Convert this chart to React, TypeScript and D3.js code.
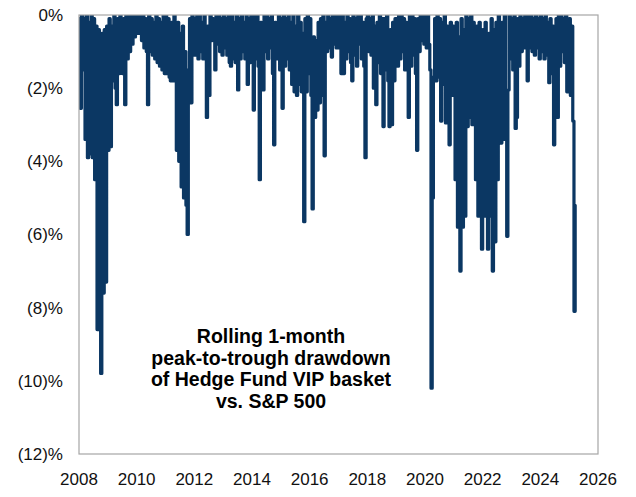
import React from "react";
import * as d3 from "d3";

// Rolling 1-month peak-to-trough drawdown (%), semi-monthly readings per year
const y2008 = [-0.1, -2.55, 0, -1.5, -0.1, -3.4, 0, -3.9, -0.2, -3.8, 0, -3.9, -0.1, -4.5, -0.3, -8.6, -0.4, -8.6, -9.8, -0.5, -7.6, -0.4, -7.3, -0.3];
const y2009 = [-3.7, -0.1, -3.6, -0.3, -1.8, 0, -2.0, -2.45, -0.1, -1.6, 0, -1.5, -1.6, -0.1, -2.45, 0, -1.2, 0, -1.0, 0, -0.8, 0, -0.6, 0];
const y2010 = [-0.5, 0, -0.5, 0, -0.7, 0, -0.9, -0.1, -1.0, -2.45, 0, -1.0, -0.1, -1.1, -0.2, -1.2, 0, -1.3, -0.1, -1.4, -0.2, -1.5, 0, -1.6];
const y2011 = [0, -1.6, -0.1, -1.7, -1.8, -0.2, -1.8, 0, -1.5, -3.7, -0.2, -4.0, -0.5, -4.7, -0.3, -5.0, -1.0, -5.2, -6.0, -1.5, -0.1, -2.4, 0, -1.1];
const y2012 = [-0.1, -1.1, 0, -1.2, 0, -1.0, -0.2, -1.2, 0, -1.1, -2.8, -0.3, -2.2, 0, -0.7, -0.1, -0.6, -1.5, 0, -0.8, 0, -1.0, -0.1, -1.1];
const y2013 = [0, -0.9, -0.1, -1.1, 0, -1.3, -1.4, 0, -1.2, -0.2, -1.3, 0, -2.05, -0.1, -1.2, 0, -1.0, -0.2, -1.2, 0, -1.9, -0.1, -1.3, 0];
const y2014 = [-0.2, -2.6, 0, -1.2, 0, -1.4, -4.5, -0.2, -1.3, -2.05, 0, -1.0, 0, -1.2, -0.1, -0.9, 0, -1.6, -3.55, -0.2, -0.4, -1.2, 0, -1.5];
const y2015 = [-0.1, -2.55, 0, -1.4, -0.1, -1.2, 0, -1.5, -0.2, -1.9, 0, -2.1, -0.3, -2.2, 0, -1.9, -0.2, -2.1, -0.5, -5.65, -0.1, -2.1, 0, -1.6];
const y2016 = [-0.1, -2.2, -5.3, -0.6, -2.8, -0.7, -2.6, -0.2, -2.4, -0.1, -2.2, 0, -3.85, -0.2, -1.0, 0, -0.9, -0.1, -1.15, 0, -0.8, 0, -0.9, -0.1];
const y2017 = [0, -0.9, -1.6, 0, -1.6, -0.2, -1.2, 0, -1.0, -0.1, -1.3, -1.8, 0, -1.1, -0.1, -1.4, 0, -0.8, 0, -1.2, -0.2, -1.4, -3.9, -0.1];
const y2018 = [0, -1.0, -0.1, -1.1, 0, -2.0, -0.3, -2.45, -0.2, -1.3, 0, -1.6, -0.1, -3.05, -0.1, -1.5, 0, -1.8, -3.05, -0.4, -3.0, -0.2, -1.8, -0.1];
const y2019 = [-0.1, -1.4, 0, -1.2, 0, -1.0, -0.1, -1.5, -0.2, -1.3, -2.8, 0, -1.4, 0, -1.1, -0.1, -1.6, -3.7, -0.1, -1.0, 0, -0.7, 0, -0.8];
const y2020 = [0, -0.9, 0, -0.8, -1.5, -10.2, -5.0, -1.7, -0.1, -1.8, 0, -1.7, -0.1, -2.9, -0.2, -1.9, 0, -2.95, -0.3, -2.0, -3.55, -0.2, -2.2, -0.3];
const y2021 = [-0.5, -4.5, -0.2, -5.8, -0.6, -7.0, -0.1, -5.8, -0.4, -5.5, 0, -3.05, -0.1, -2.8, 0, -3.0, -0.2, -2.0, -4.5, -0.3, -5.5, -0.2, -5.4, -6.4];
const y2022 = [-0.4, -5.5, -0.2, -5.0, -6.4, -0.5, -5.5, -0.1, -7.0, -0.4, -6.2, -0.2, -4.5, 0, -2.5, -3.5, -0.2, -3.4, 0, -2.5, -6.05, -2.05, 0, -1.2];
const y2023 = [-0.1, -1.5, 0, -3.1, -2.8, -0.1, -1.4, 0, -1.0, -0.1, -0.9, 0, -0.8, -1.8, 0, -0.9, 0, -1.0, -0.1, -1.1, 0, -0.9, -0.1, -1.2];
const y2024 = [0, -1.0, -0.1, -1.2, 0, -1.1, -0.2, -1.85, -0.1, -1.6, -0.3, -3.55, -1.2, -0.1, -2.8, 0, -1.4, 0, -1.0, -0.1, -1.3, 0, -2.1, -0.2];
const y2025 = [-0.1, -2.2, -0.3, -2.9, -8.1, -5.2];

const years = [2008, 2009, 2010, 2011, 2012, 2013, 2014, 2015, 2016, 2017, 2018, 2019, 2020, 2021, 2022, 2023, 2024, 2025];
const yearValues = [y2008, y2009, y2010, y2011, y2012, y2013, y2014, y2015, y2016, y2017, y2018, y2019, y2020, y2021, y2022, y2023, y2024, y2025];

const xTicks = [2008, 2010, 2012, 2014, 2016, 2018, 2020, 2022, 2024, 2026];
const yTicks = [0, -2, -4, -6, -8, -10, -12];
const yTickLabels = ["0%", "(2)%", "(4)%", "(6)%", "(8)%", "(10)%", "(12)%"];
const noteLines = ["Rolling 1-month", "peak-to-trough drawdown", "of Hedge Fund VIP basket", "vs. S&P 500"];

const W = 636;
const H = 497;
const PL = 79, PR = 598, PT = 15, PB = 454;
const FONT = "'Liberation Sans', Arial, Helvetica, sans-serif";

export default function App() {
  const x = d3.scaleLinear().domain([2008, 2026]).range([PL, PR]);
  const y = d3.scaleLinear().domain([-12, 0]).range([PB, PT]);

  const series = years.flatMap((yr, k) =>
    yearValues[k].map((v, i) => ({ t: yr + i / 24, v }))
  );

  const line = d3
    .line<{ t: number; v: number }>()
    .curve(d3.curveStepAfter)
    .x((d) => x(d.t))
    .y((d) => y(d.v));

  return (
    <svg
      width={W}
      height={H}
      viewBox={`0 0 ${W} ${H}`}
      style={{ position: "absolute", left: 0, top: 0, background: "#fff" }}
    >
      <defs>
        <clipPath id="plotClip">
          <rect x={PL} y={PT} width={PR - PL} height={PB - PT + 10} />
        </clipPath>
      </defs>
      <rect x={0} y={0} width={W} height={H} fill="#fff" />
      <g clipPath="url(#plotClip)">
        <path
          d={line(series) || ""}
          fill="none"
          stroke="#0b3763"
          strokeWidth={3.2}
          strokeLinejoin="round"
          strokeLinecap="round"
        />
      </g>
      <rect
        x={PL}
        y={PT}
        width={PR - PL}
        height={PB - PT}
        fill="none"
        stroke="#a6a6a6"
        strokeWidth={1.2}
      />
      {yTicks.map((t, i) => (
        <text
          key={t}
          x={63}
          y={y(t)}
          dy="0.35em"
          textAnchor="end"
          fontFamily={FONT}
          fontSize={17}
          fill="#111"
        >
          {yTickLabels[i]}
        </text>
      ))}
      {xTicks.map((t) => (
        <text
          key={t}
          x={x(t)}
          y={485}
          textAnchor="middle"
          fontFamily={FONT}
          fontSize={17}
          fill="#111"
        >
          {t}
        </text>
      ))}
      {noteLines.map((s, i) => (
        <text
          key={s}
          x={271}
          y={343 + i * 21.7}
          textAnchor="middle"
          fontFamily={FONT}
          fontSize={19.5}
          fontWeight="bold"
          fill="#000"
        >
          {s}
        </text>
      ))}
    </svg>
  );
}
